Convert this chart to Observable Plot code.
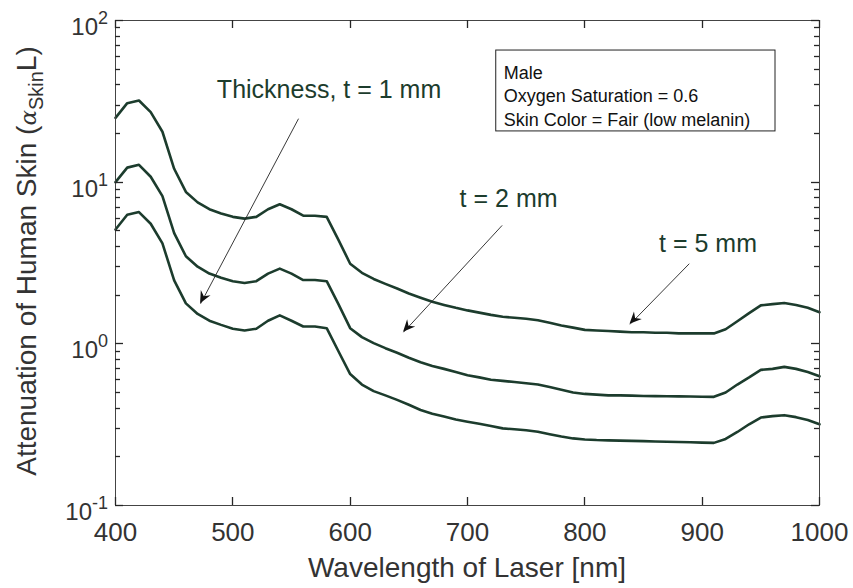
<!DOCTYPE html>
<html>
<head>
<meta charset="utf-8">
<script src="https://cdn.jsdelivr.net/npm/d3@7"></script>
<script src="https://cdn.jsdelivr.net/npm/@observablehq/plot@0.6"></script>
<style>
  html, body { margin: 0; padding: 0; background: #ffffff; }
  #chart svg { display: block; }
</style>
</head>
<body>
<div id="chart"></div>
<script>
// ---------------- data ----------------
const wavelength = [400,410,420,430,440,450,460,470,480,490,500,510,520,530,540,550,560,570,580,590,
  600,610,620,630,640,650,660,670,680,690,700,710,720,730,740,750,760,770,780,790,
  800,810,820,830,840,850,860,870,880,890,900,910,920,930,940,950,960,970,980,990,1000];

// thickness t = 5 mm (top curve)
const atten5mm = [25, 30.8, 32, 27.1, 20.5, 12.1, 8.7, 7.5, 6.8, 6.4, 6.1, 5.95, 6.1, 6.8, 7.3, 6.8, 6.2, 6.2, 6.1, 4.4,
  3.13, 2.75, 2.52, 2.35, 2.2, 2.05, 1.93, 1.82, 1.74, 1.67, 1.61, 1.56, 1.51, 1.47, 1.45, 1.43, 1.40, 1.35, 1.30, 1.26,
  1.22, 1.21, 1.20, 1.19, 1.18, 1.18, 1.17, 1.17, 1.16, 1.16, 1.16, 1.16, 1.23, 1.38, 1.55, 1.73, 1.76, 1.79, 1.74, 1.67, 1.57];

// thickness t = 2 mm (middle curve)
const atten2mm = [10, 12.3, 12.8, 10.8, 8.2, 4.84, 3.48, 3.0, 2.72, 2.56, 2.44, 2.38, 2.44, 2.72, 2.92, 2.72, 2.48, 2.48, 2.44, 1.76,
  1.25, 1.10, 1.01, 0.94, 0.88, 0.82, 0.77, 0.73, 0.70, 0.67, 0.64, 0.62, 0.60, 0.59, 0.58, 0.57, 0.56, 0.54, 0.52, 0.50,
  0.49, 0.485, 0.48, 0.48, 0.478, 0.476, 0.475, 0.474, 0.473, 0.472, 0.471, 0.47, 0.50, 0.56, 0.62, 0.69, 0.70, 0.72, 0.70, 0.67, 0.63];

// thickness t = 1 mm (bottom curve)
const atten1mm = [5.1, 6.29, 6.53, 5.53, 4.18, 2.47, 1.78, 1.53, 1.39, 1.31, 1.24, 1.21, 1.24, 1.39, 1.50, 1.39, 1.28, 1.28, 1.25, 0.90,
  0.65, 0.56, 0.51, 0.48, 0.45, 0.42, 0.39, 0.37, 0.355, 0.34, 0.33, 0.32, 0.31, 0.30, 0.296, 0.292, 0.286, 0.276, 0.267, 0.26,
  0.256, 0.254, 0.253, 0.252, 0.251, 0.25, 0.249, 0.248, 0.247, 0.246, 0.245, 0.244, 0.258, 0.285, 0.318, 0.350, 0.357, 0.362, 0.352, 0.338, 0.318];

const seriesNames = ["t = 5 mm", "t = 2 mm", "t = 1 mm"];
const xTicks = [400, 500, 600, 700, 800, 900, 1000];
const xTickLabels = ["400", "500", "600", "700", "800", "900", "1000"];
const yMajorTicks = [0.1, 1, 10, 100];
const yTickExponents = ["-1", "0", "1", "2"];
const yMinorTicks = [0.2,0.3,0.4,0.5,0.6,0.7,0.8,0.9, 2,3,4,5,6,7,8,9, 20,30,40,50,60,70,80,90];
const xAxisTitle = "Wavelength of Laser [nm]";
const yAxisTitleParts = ["Attenuation of Human Skin (", "\u03B1", "Skin", "L", ")"];
const infoLines = ["Male", "Oxygen Saturation = 0.6", "Skin Color = Fair (low melanin)"];
const annotationLabels = ["Thickness, t = 1 mm", "t = 2 mm", "t = 5 mm"];

// ---------------- layout (positions in data space) ----------------
const annotationPos = [
  {x: 582, y: 37.4},
  {x: 735, y: 7.9},
  {x: 905, y: 4.15}
];
const arrowPos = [
  {x1: 556, y1: 24.7, x2: 472.5, y2: 1.77},
  {x1: 729.5, y1: 5.4, x2: 645.5, y2: 1.18},
  {x1: 889, y1: 3.13, x2: 838.5, y2: 1.32}
];
const infoBox = {x1: 724.5, x2: 962.5, y1: 20.6, y2: 65.2};
const infoTextPos = {x: 730.8, y: 55.2};

const LINE = "#1c3c2d";
const AXIS = "#262626";
const TEXT = "#333333";
const FONT = "'Liberation Sans', Arial, Helvetica, sans-serif";
const W = 853, H = 588, ML = 115, MR = 34, MT = 20, MB = 83;

// ---------------- build ----------------
const seriesValues = [atten5mm, atten2mm, atten1mm];
const rows = seriesNames.flatMap((name, s) =>
  wavelength.map((w, i) => ({wavelength: w, value: seriesValues[s][i], series: name})));
const annotations = annotationLabels.map((label, i) => ({label, ...annotationPos[i]}));

const plot = Plot.plot({
  width: W,
  height: H,
  marginLeft: ML,
  marginRight: MR,
  marginTop: MT,
  marginBottom: MB,
  style: {fontFamily: FONT, background: "#ffffff", overflow: "visible"},
  x: {domain: [400, 1000], label: null, axis: null},
  y: {type: "log", domain: [0.1, 100], label: null, axis: null},
  marks: [
    Plot.line(rows, {x: "wavelength", y: "value", z: "series", stroke: LINE, strokeWidth: 2.6, strokeLinejoin: "round"}),
    // x tick labels
    Plot.axisX({ticks: xTicks, anchor: "bottom", tickSize: 0, tickPadding: 17,
      tickFormat: (d) => xTickLabels[xTicks.indexOf(d)], fontSize: 26, fill: TEXT}),
    Plot.frame({stroke: "#444444", strokeWidth: 1}),
    // annotation arrows (shaft; heads added below)
    Plot.link(arrowPos, {x1: "x1", y1: "y1", x2: "x2", y2: "y2", stroke: "#222222", strokeWidth: 0.9}),
    Plot.text(annotations, {x: "x", y: "y", text: "label", fontSize: 25, fill: LINE, textAnchor: "middle"}),
    // info box
    Plot.rect([infoBox], {x1: "x1", x2: "x2", y1: "y1", y2: "y2", fill: "#ffffff", stroke: "#222222", strokeWidth: 1}),
    Plot.text([infoLines.join("\n")], {x: () => infoTextPos.x, y: () => infoTextPos.y, text: (d) => d,
      textAnchor: "start", lineAnchor: "top", lineHeight: 1.3, fontSize: 18, fill: "#111111"})
  ]
});

const svg = d3.select(plot);
const xs = plot.scale("x");
const ys = plot.scale("y");
const frameTop = MT, frameBottom = H - MB, frameLeft = ML, frameRight = W - MR;

// inward ticks on all four sides, positioned through the plot's scales
const tg = svg.append("g");
function tick(x1, y1, x2, y2) {
  tg.append("line")
    .attr("x1", x1).attr("y1", y1).attr("x2", x2).attr("y2", y2)
    .style("stroke", AXIS).style("stroke-width", "1.3px");
}
xTicks.forEach((v) => {
  const px = Math.round(xs.apply(v)) + 0.5;
  tick(px, frameBottom, px, frameBottom - 8);
  tick(px, frameTop, px, frameTop + 8);
});
[[yMajorTicks, 8], [yMinorTicks, 5]].forEach(([ticks, len]) => {
  ticks.forEach((v) => {
    const py = Math.round(ys.apply(v)) + 0.5;
    tick(frameLeft, py, frameLeft + len, py);
    tick(frameRight, py, frameRight - len, py);
  });
});

// filled arrowheads (MATLAB style), positioned through the plot's scales
arrowPos.forEach((a) => {
  const px1 = xs.apply(a.x1), py1 = ys.apply(a.y1);
  const px2 = xs.apply(a.x2), py2 = ys.apply(a.y2);
  const ang = Math.atan2(py2 - py1, px2 - px1);
  const L = 12, Wd = 5.5, back = 8;
  const ux = Math.cos(ang), uy = Math.sin(ang), nx = -uy, ny = ux;
  const p = [
    [px2, py2],
    [px2 - L * ux + Wd * nx, py2 - L * uy + Wd * ny],
    [px2 - back * ux, py2 - back * uy],
    [px2 - L * ux - Wd * nx, py2 - L * uy - Wd * ny]
  ];
  svg.append("path")
    .attr("d", "M" + p.map((q) => q.join(",")).join("L") + "Z")
    .attr("fill", "#111111")
    .attr("stroke", "none");
});

// y tick labels with superscript exponents
yMajorTicks.forEach((v, i) => {
  const py = ys.apply(v);
  const t = svg.append("text")
    .attr("x", 108)
    .attr("y", py + 15)
    .attr("text-anchor", "end")
    .attr("font-family", FONT)
    .attr("font-size", 24)
    .attr("fill", TEXT);
  t.append("tspan").text("10");
  t.append("tspan").attr("font-size", 18).attr("dy", -11).text(yTickExponents[i]);
});

// x axis title
svg.append("text")
  .attr("x", 467)
  .attr("y", 577)
  .attr("text-anchor", "middle")
  .attr("font-family", FONT)
  .attr("font-size", 28)
  .attr("fill", TEXT)
  .text(xAxisTitle);

// y axis title (rotated) with alpha and subscript
const yt = svg.append("text")
  .attr("transform", "translate(36,261) rotate(-90)")
  .attr("text-anchor", "middle")
  .attr("font-family", FONT)
  .attr("font-size", 28)
  .attr("fill", TEXT);
yt.append("tspan").text(yAxisTitleParts[0]);
yt.append("tspan").attr("font-family", "'DejaVu Serif', serif").attr("font-style", "italic").attr("font-size", 23).text(yAxisTitleParts[1]);
yt.append("tspan").attr("font-size", 20).attr("dy", 7).text(yAxisTitleParts[2]);
yt.append("tspan").attr("dy", -7).text(yAxisTitleParts[3]);
yt.append("tspan").text(yAxisTitleParts[4]);

document.getElementById("chart").appendChild(plot);
</script>
</body>
</html>
